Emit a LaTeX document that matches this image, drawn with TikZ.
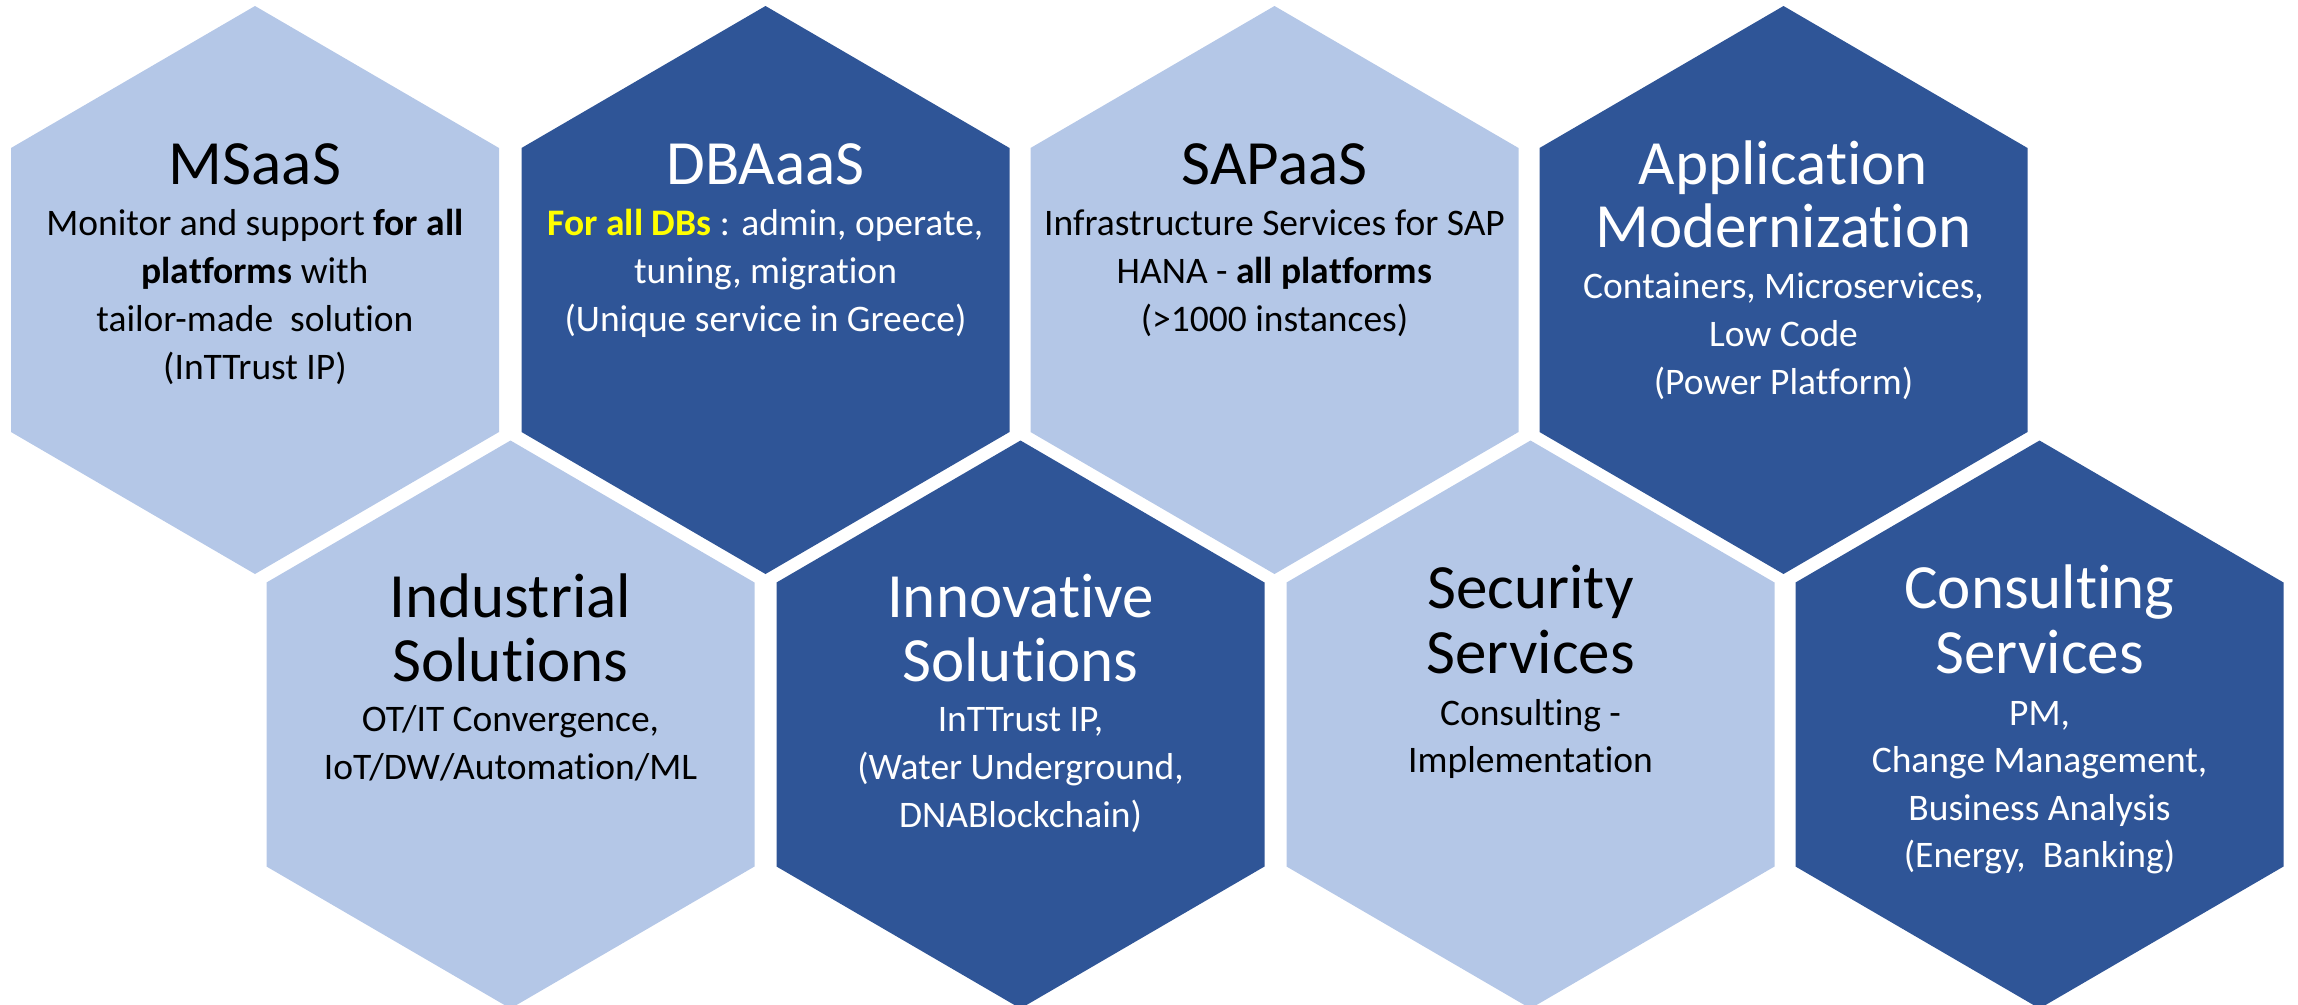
\documentclass[tikz,border=0pt]{standalone}
\usepackage{fontspec}
\setmainfont[Ligatures=NoCommon]{Carlito}
\newcommand\xti{t\kern0pt i}
\definecolor{hexlight}{HTML}{B4C7E7}
\definecolor{hexdark}{HTML}{2F5597}
\definecolor{hiyellow}{HTML}{FFFF00}
\tikzset{
  hexa/.pic={\path[fill=#1] (0,-284) -- (244,-142) -- (244,142) -- (0,284) -- (-244,142) -- (-244,-142) -- cycle;},
  ttl/.style={font=\fontsize{63}{76}\selectfont, anchor=base, inner sep=0pt},
  bdy/.style={font=\fontsize{37.5}{45}\selectfont, anchor=base, inner sep=0pt},
  onlight/.style={text=black},
  ondark/.style={text=white}
}
\begin{document}
\begin{tikzpicture}[x=1pt,y=-1pt]
\useasboundingbox (0,0) rectangle (2298,1004);
\clip (0,0) rectangle (2298,1004);
% hexagons
\pic at (255,290) {hexa=hexlight};
\pic at (765.5,290) {hexa=hexdark};
\pic at (1274.5,290) {hexa=hexlight};
\pic at (1783.5,290) {hexa=hexdark};
\pic at (510.5,724.5) {hexa=hexlight};
\pic at (1020.5,724.5) {hexa=hexdark};
\pic at (1530.5,724.5) {hexa=hexlight};
\pic at (2039.5,724.5) {hexa=hexdark};
% MSaaS
\node[ttl,onlight] (ms0) at (255,184) {MSaaS};
\node[bdy,onlight] (ms1) at (255,235) {Monitor and support \textbf{for all}};
\node[bdy,onlight] (ms2) at (255,283) {\textbf{platforms} with};
\node[bdy,onlight] (ms3) at (255,331) {tailor-made\ \ solu\xti on};
\node[bdy,onlight] (ms4) at (255,379) {(InTTrust IP)};
% DBAaaS
\node[ttl,ondark] (db0) at (765.5,184) {DBAaaS};
\node[bdy,ondark] (db1) at (765.5,235) {\textcolor{hiyellow}{\textbf{For all DBs}} : admin, operate,};
\node[bdy,ondark] (db2) at (765.5,283) {tuning, migra\xti on};
\node[bdy,ondark] (db3) at (765.5,331) {(Unique service in Greece)};
% SAPaaS
\node[ttl,onlight] (sap0) at (1274.5,184) {SAPaaS};
\node[bdy,onlight] (sap1) at (1274.5,235) {Infrastructure Services for SAP};
\node[bdy,onlight] (sap2) at (1274.5,283) {HANA - \textbf{all platforms}};
\node[bdy,onlight] (sap3) at (1274.5,331) {(>1000 instances)};
% Application Modernization
\node[ttl,ondark] (am0) at (1783.5,184) {Applica\xti on};
\node[ttl,ondark] (am1) at (1783.5,247) {Moderniza\xti on};
\node[bdy,ondark] (am2) at (1783.5,298) {Containers, Microservices,};
\node[bdy,ondark] (am3) at (1783.5,346) {Low Code};
\node[bdy,ondark] (am4) at (1783.5,394) {(Power Platform)};
% Industrial Solutions
\node[ttl,onlight] (in0) at (510.5,617) {Industrial};
\node[ttl,onlight] (in1) at (510.5,681) {Solu\xti ons};
\node[bdy,onlight] (in2) at (510.5,731) {OT/IT Convergence,};
\node[bdy,onlight] (in3) at (510.5,779) {IoT/DW/Automa\xti on/ML};
% Innovative Solutions
\node[ttl,ondark] (nv0) at (1020.5,617) {Innova\xti ve};
\node[ttl,ondark] (nv1) at (1020.5,681) {Solu\xti ons};
\node[bdy,ondark] (nv2) at (1020.5,731) {InTTrust IP,};
\node[bdy,ondark] (nv3) at (1020.5,779) {(Water Underground,};
\node[bdy,ondark] (nv4) at (1020.5,827) {DNABlockchain)};
% Security Services
\node[ttl,onlight] (se0) at (1530.5,608) {Security};
\node[ttl,onlight] (se1) at (1530.5,673) {Services};
\node[bdy,onlight] (se2) at (1530.5,725) {Consul\xti ng -};
\node[bdy,onlight] (se3) at (1530.5,772) {Implementa\xti on};
% Consulting Services
\node[ttl,ondark] (cs0) at (2039.5,608) {Consul\xti ng};
\node[ttl,ondark] (cs1) at (2039.5,673) {Services};
\node[bdy,ondark] (cs2) at (2039.5,725) {PM,};
\node[bdy,ondark] (cs3) at (2039.5,772) {Change Management,};
\node[bdy,ondark] (cs4) at (2039.5,820) {Business Analysis};
\node[bdy,ondark] (cs5) at (2039.5,867) {(Energy,\ \ Banking)};
\end{tikzpicture}
\end{document}
